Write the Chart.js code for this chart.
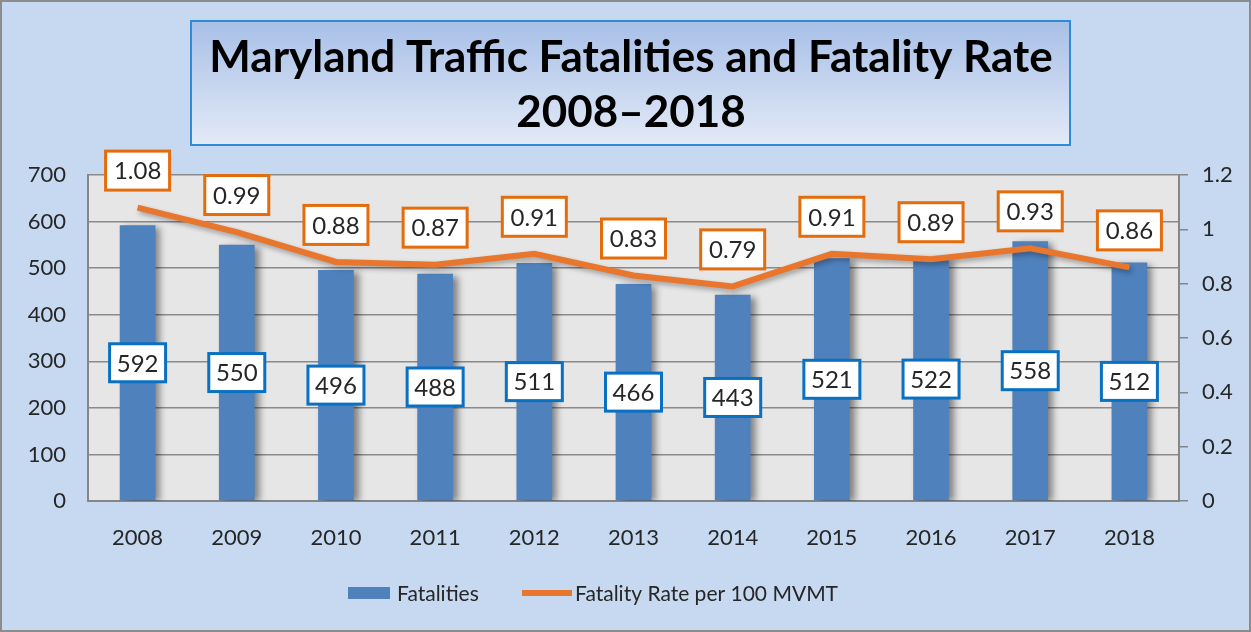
<!DOCTYPE html>
<html>
<head>
<meta charset="utf-8">
<script src="https://cdn.jsdelivr.net/npm/chart.js@4.4.1/dist/chart.umd.min.js"></script>
<style>
  body { margin: 0; background: #c6d9f1; }
  canvas { display: block; }
</style>
</head>
<body>
<canvas id="canvas" width="1251" height="632"></canvas>
<script>
// data
let years = ["2008", "2009", "2010", "2011", "2012", "2013", "2014", "2015", "2016", "2017", "2018"];
let fatalities = [592, 550, 496, 488, 511, 466, 443, 521, 522, 558, 512];
let fatalityRate = [1.08, 0.99, 0.88, 0.87, 0.91, 0.83, 0.79, 0.91, 0.89, 0.93, 0.86];
let titleLines = ["Maryland Traffic Fatalities and Fatality Rate", "2008\u20132018"];

let font = "Lato, 'Open Sans', sans-serif";
let blue = "#4f81bd";
let orange = "#e8762d";

// page background, plot area, title box
let backgroundPlugin = {
  id: "bg",
  beforeDraw(chart) {
    let c = chart.ctx;
    let a = chart.chartArea;
    c.save();
    c.fillStyle = "#c6d9f1";
    c.fillRect(0, 0, chart.width, chart.height);
    c.strokeStyle = "#8c8c8c";
    c.lineWidth = 2;
    c.strokeRect(1, 1, chart.width - 2, chart.height - 2);
    c.fillStyle = "#e6e6e6";
    c.fillRect(a.left, a.top, a.right - a.left, a.bottom - a.top);

    // title box
    let g = c.createLinearGradient(0, 20, 0, 145);
    g.addColorStop(0, "#a7bfe7");
    g.addColorStop(1, "#e3eaf7");
    c.fillStyle = g;
    c.fillRect(191, 21, 879, 124);
    c.strokeStyle = "#2e8bd6";
    c.lineWidth = 2;
    c.strokeRect(191, 21, 879, 124);
    c.fillStyle = "#000";
    c.font = "bold 44px " + font;
    c.textAlign = "center";
    c.textBaseline = "middle";
    c.fillText(titleLines[0], 631, 58);
    c.fillText(titleLines[1], 631, 113);
    c.restore();
  },
  afterDraw(chart) {
    // legend
    let c = chart.ctx;
    c.save();
    c.fillStyle = blue;
    c.fillRect(348, 587, 42, 12);
    c.fillStyle = orange;
    c.fillRect(522, 590, 50, 6);
    c.fillStyle = "#262626";
    c.font = "21px " + font;
    c.textBaseline = "middle";
    c.fillText("Fatalities", 397, 594);
    c.fillText("Fatality Rate per 100 MVMT", 575, 594);
    c.restore();
  },
};

// soft shadows behind bars and line
let shadowPlugin = {
  id: "shadow",
  beforeDatasetDraw(chart, args) {
    let c = chart.ctx;
    c.save();
    c.shadowColor = "rgba(0,0,0,0.45)";
    if (args.index === 0) {
      c.shadowBlur = 7;
      c.shadowOffsetX = 5;
      c.shadowOffsetY = 2;
    } else {
      c.shadowColor = "rgba(0,0,0,0.3)";
      c.shadowBlur = 5;
      c.shadowOffsetX = 2;
      c.shadowOffsetY = 3;
    }
  },
  afterDatasetDraw(chart) {
    chart.ctx.restore();
  },
};

function labelBox(c, text, cx, cy, w, h, border) {
  c.fillStyle = "#fff";
  c.fillRect(cx - w / 2, cy - h / 2, w, h);
  c.strokeStyle = border;
  c.lineWidth = 3;
  c.strokeRect(cx - w / 2, cy - h / 2, w, h);
  c.fillStyle = "#262626";
  c.fillText(text, cx, cy + 1);
}

let labelPlugin = {
  id: "labels",
  afterDatasetsDraw(chart) {
    let c = chart.ctx;
    c.save();
    c.font = "24px " + font;
    c.textAlign = "center";
    c.textBaseline = "middle";
    let bars = chart.getDatasetMeta(0).data;
    bars.forEach((b, i) => {
      labelBox(c, String(fatalities[i]), b.x, (b.y + b.base) / 2, 56, 38, "#0a70c2");
    });
    let pts = chart.getDatasetMeta(1).data;
    pts.forEach((p, i) => {
      labelBox(c, fatalityRate[i].toFixed(2), p.x, p.y - 37, 64, 39, "#e46c0a");
    });
    c.restore();
  },
};

let chart = new Chart(document.getElementById("canvas"), {
  data: {
    labels: years,
    datasets: [
      {
        type: "bar",
        label: "Fatalities",
        data: fatalities,
        backgroundColor: blue,
        yAxisID: "y",
        order: 1,
        categoryPercentage: 1,
        barPercentage: 0.36,
      },
      {
        type: "line",
        label: "Fatality Rate per 100 MVMT",
        data: fatalityRate,
        borderColor: orange,
        borderWidth: 6,
        pointRadius: 0,
        tension: 0,
        yAxisID: "y1",
        order: 0,
      },
    ],
  },
  options: {
    responsive: false,
    animation: false,
    layout: { padding: { top: 175, left: 0, right: 0, bottom: 0 } },
    plugins: {
      legend: { display: false },
      title: { display: false },
      tooltip: { enabled: false },
    },
    scales: {
      x: {
        grid: { display: false, drawTicks: false },
        border: { display: true, color: "#868686", width: 2 },
        ticks: { color: "#262626", font: { family: font, size: 22 }, padding: 24 },
        afterFit: (s) => { s.height = 131; },
      },
      y: {
        position: "left",
        min: 0,
        max: 700,
        ticks: { stepSize: 100, color: "#262626", font: { family: font, size: 22 }, padding: 22 },
        grid: { color: "#8a8a8a", lineWidth: 1.5, drawTicks: false },
        border: { display: true, color: "#868686", width: 2 },
        afterFit: (s) => { s.width = 88; },
      },
      y1: {
        position: "right",
        min: 0,
        max: 1.2,
        ticks: {
          stepSize: 0.2,
          color: "#262626",
          font: { family: font, size: 22 },
          padding: 14,
          callback: (v) => String(+v.toFixed(1)),
        },
        grid: { drawOnChartArea: false, color: "#868686", lineWidth: 1.5, tickLength: 9 },
        border: { display: true, color: "#868686", width: 2 },
        afterFit: (s) => { s.width = 72; },
      },
    },
  },
  plugins: [backgroundPlugin, shadowPlugin, labelPlugin],
});
</script>
</body>
</html>
